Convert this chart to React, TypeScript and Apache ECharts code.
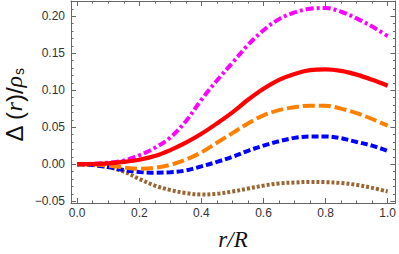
import React, { useEffect, useRef } from "react";
import * as echarts from "echarts";

const rValues = [0, 0.05, 0.1, 0.15, 0.2, 0.25, 0.3, 0.35, 0.4, 0.45, 0.5, 0.55, 0.6, 0.65, 0.7, 0.75, 0.8, 0.85, 0.9, 0.95, 1.0];
const magentaValues = [0, 0.0005, 0.002, 0.005, 0.012, 0.022, 0.036, 0.058, 0.087, 0.113, 0.137, 0.161, 0.181, 0.196, 0.205, 0.210, 0.211, 0.206, 0.197, 0.186, 0.173];
const redValues = [0, 0.0002, 0.001, 0.003, 0.006, 0.011, 0.019, 0.029, 0.041, 0.055, 0.070, 0.087, 0.102, 0.114, 0.122, 0.127, 0.128, 0.126, 0.121, 0.114, 0.106];
const orangeValues = [0, -0.0005, -0.002, -0.0045, -0.0062, -0.005, -0.001, 0.006, 0.016, 0.029, 0.042, 0.055, 0.066, 0.073, 0.077, 0.079, 0.079, 0.075, 0.069, 0.061, 0.052];
const blueValues = [0, -0.001, -0.004, -0.008, -0.0105, -0.0115, -0.011, -0.0085, -0.003, 0.003, 0.010, 0.018, 0.025, 0.031, 0.0355, 0.0375, 0.0375, 0.035, 0.030, 0.025, 0.018];
const brownValues = [0, -0.001, -0.004, -0.010, -0.020, -0.029, -0.035, -0.039, -0.041, -0.040, -0.037, -0.033, -0.029, -0.026, -0.0248, -0.024, -0.0243, -0.0255, -0.028, -0.032, -0.037];

const xMajorTicks = [0, 0.2, 0.4, 0.6, 0.8, 1.0];
const xMinorTicks = [0.05, 0.1, 0.15, 0.25, 0.3, 0.35, 0.45, 0.5, 0.55, 0.65, 0.7, 0.75, 0.85, 0.9, 0.95];
const yMajorTicks = [-0.05, 0, 0.05, 0.1, 0.15, 0.2];
const yMinorTicks = [-0.04, -0.03, -0.02, -0.01, 0.01, 0.02, 0.03, 0.04, 0.06, 0.07, 0.08, 0.09, 0.11, 0.12, 0.13, 0.14, 0.16, 0.17, 0.18, 0.19, 0.21];

const pair = (ys: number[]) => rValues.map((x, i) => [x, ys[i]]);

export default function App() {
  const ref = useRef<HTMLDivElement>(null);
  useEffect(() => {
    if (!ref.current) return;
    const chart = echarts.init(ref.current, null, { renderer: "svg" });
    const frameColor = "#666666";
    const xMin = -0.02, xMax = 1.025, yMin = -0.0525, yMax = 0.2205;
    const mkX = (pos: string, ticks: number[], len: number, labels: boolean, line: boolean) => ({
      type: "value", position: pos, min: xMin, max: xMax,
      axisLine: { show: line, onZero: false, lineStyle: { color: frameColor, width: 1 } },
      axisTick: { show: true, inside: true, length: len, customValues: ticks, lineStyle: { color: frameColor } },
      axisLabel: labels ? { show: true, customValues: ticks, formatter: (v: number) => v.toFixed(1), color: "#333", fontSize: 12, fontFamily: "Liberation Sans", margin: 4 } : { show: false },
      splitLine: { show: false },
    });
    const mkY = (pos: string, ticks: number[], len: number, labels: boolean, line: boolean) => ({
      type: "value", position: pos, min: yMin, max: yMax,
      axisLine: { show: line, onZero: false, lineStyle: { color: frameColor, width: 1 } },
      axisTick: { show: true, inside: true, length: len, customValues: ticks, lineStyle: { color: frameColor } },
      axisLabel: labels ? { show: true, customValues: ticks, formatter: (v: number) => (v < 0 ? "\u2212" + Math.abs(v).toFixed(2) : v.toFixed(2)), color: "#333", fontSize: 12, fontFamily: "Liberation Sans", margin: 6 } : { show: false },
      splitLine: { show: false },
    });
    const mkSeries = (name: string, ys: number[], color: string, type: any, width: number) => ({
      name, type: "line", data: pair(ys), xAxisIndex: 0, yAxisIndex: 0, showSymbol: false, smooth: 0.35,
      lineStyle: { color, width, type, cap: "butt" },
    });
    chart.setOption({
      animation: false,
      grid: { left: 71, right: 2, top: 1, bottom: 51 },
      xAxis: [
        mkX("bottom", xMajorTicks, 5, true, true),
        mkX("bottom", xMinorTicks, 2.5, false, false),
        mkX("top", xMajorTicks, 5, false, true),
        mkX("top", xMinorTicks, 2.5, false, false),
      ],
      yAxis: [
        mkY("left", yMajorTicks, 5, true, true),
        mkY("left", yMinorTicks, 2.5, false, false),
        mkY("right", yMajorTicks, 5, false, true),
        mkY("right", yMinorTicks, 2.5, false, false),
      ],
      series: [
        mkSeries("brown", brownValues, "#996633", [3, 2], 4),
        mkSeries("blue", blueValues, "#0000ff", [7, 3], 4),
        mkSeries("orange", orangeValues, "#ff8000", [12, 4], 4),
        mkSeries("magenta", magentaValues, "#ff00ff", [8, 3, 3, 3], 4),
        mkSeries("red", redValues, "#ff0000", "solid", 4.2),
      ],
      graphic: [
        {
          type: "text", x: 14, y: 105, rotation: Math.PI / 2,
          style: {
            text: "{d|\u0394 (}{i|r}{d|)/}{i|\u03c1}{s|s}",
            align: "center", verticalAlign: "middle",
            rich: {
              d: { fontSize: 24, fontFamily: "Liberation Sans", fill: "#111" },
              i: { fontSize: 24, fontFamily: "Liberation Serif", fontStyle: "italic", fill: "#111" },
              s: { fontSize: 14, fontFamily: "Liberation Sans", fill: "#111", padding: [10, 0, 0, 1] },
            },
          },
        },
        {
          type: "text", x: 233, y: 239,
          style: {
            text: "r/R", align: "center", verticalAlign: "middle",
            fontSize: 23, fontFamily: "Liberation Serif", fontStyle: "italic", fill: "#111",
          },
        },
      ],
    });
    return () => chart.dispose();
  }, []);
  return <div ref={ref} style={{ width: 399, height: 254, position: "absolute", left: 0, top: 0 }} />;
}
